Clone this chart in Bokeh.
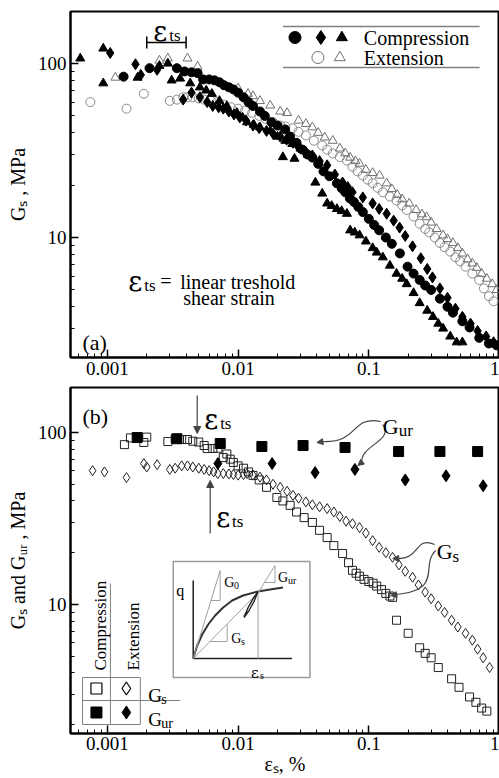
import math
from bokeh.plotting import figure
from bokeh.models import Label, Arrow, NormalHead, FixedTicker, Range1d
from bokeh.layouts import column
from bokeh.embed import file_html
from bokeh.resources import INLINE

# ---------------- data ----------------
# Panel (a) : secant shear modulus Gs (MPa) versus shear strain (%)
a_comp_circle_x = [0.00133, 0.0021, 0.0034, 0.0039, 0.0044, 0.0049, 0.0054, 0.0060, 0.0066, 0.0072, 0.0078, 0.0085,
                   0.0092, 0.0100, 0.0110, 0.0120, 0.0130, 0.0147, 0.0160, 0.0180, 0.0200, 0.0229, 0.0250, 0.0280,
                   0.0310, 0.0340, 0.0370, 0.0410, 0.0450, 0.0500, 0.0570, 0.0620, 0.0660, 0.0716, 0.0770, 0.0830,
                   0.0900, 0.1000, 0.1100, 0.1200, 0.1350, 0.1500, 0.1730, 0.1980, 0.2200, 0.2450, 0.2700, 0.3000,
                   0.3500, 0.4000, 0.4400, 0.5200, 0.5900, 0.7000, 0.8300, 0.9500]
a_comp_circle_y = [84, 94, 94, 90, 89, 88, 81, 81, 80, 78, 75, 73,
                   71, 68, 64, 60, 57, 53, 50, 46, 44, 41.8, 38, 35,
                   32, 30, 28.8, 26.5, 24.0, 22.5, 20.5, 19.2, 18.2, 16.8, 16.0, 15.0,
                   14.0, 12.8, 11.8, 11.0, 10.0, 9.2, 8.1, 6.8, 6.2, 5.7, 5.3, 5.0,
                   4.45, 4.0, 3.7, 3.3, 3.04, 2.65, 2.46, 2.4]
a_comp_diamond_x = [0.00105, 0.00164, 0.0018, 0.0024, 0.0038, 0.0044, 0.0051, 0.0058, 0.0064, 0.0071, 0.0077,
                    0.0085, 0.0093, 0.0103, 0.0115, 0.0130, 0.0145, 0.0165, 0.0185, 0.0210, 0.0235, 0.0263,
                    0.0290, 0.0330, 0.0370, 0.0420, 0.0480, 0.0550, 0.0630, 0.0690, 0.0750, 0.0900, 0.1070,
                    0.1200, 0.1370, 0.1550, 0.1720, 0.1900, 0.2160, 0.2500, 0.2800, 0.3070, 0.3500, 0.4000,
                    0.4600, 0.5200, 0.6000, 0.6800, 0.7900, 0.9000]
a_comp_diamond_y = [115, 99, 86, 92, 62, 68, 64, 60, 57, 56, 55,
                    53, 51, 49, 47, 44, 42.5, 41, 39.5, 38, 36.5, 35,
                    33, 31, 29.6, 27.5, 26, 23, 20.7, 19.5, 18.2, 17, 15.7,
                    14.6, 13.7, 12.5, 11.4, 10.2, 8.9, 7.6, 6.6, 5.9, 5.1, 4.5,
                    3.9, 3.5, 3.2, 2.9, 2.7, 2.5]
a_comp_triangle_x = [0.00062, 0.00093, 0.00093, 0.0017, 0.0025, 0.0029, 0.0031, 0.0036, 0.0043, 0.0051, 0.0057,
                     0.0063, 0.0072, 0.0082, 0.0098, 0.0108, 0.0117, 0.0132, 0.0147, 0.0176, 0.0200, 0.0220,
                     0.0230, 0.0260, 0.0270, 0.0300, 0.0340, 0.0390, 0.0440, 0.0480, 0.0520, 0.0570, 0.0620,
                     0.0680, 0.0720, 0.0780, 0.0850, 0.0950, 0.1070, 0.1150, 0.1280, 0.1450, 0.1630, 0.1800,
                     0.1950, 0.2200, 0.2450, 0.2800, 0.3100, 0.3400, 0.3700, 0.4200, 0.4700, 0.5200]
a_comp_triangle_y = [107, 122, 77, 83, 97, 100, 80, 82, 77, 73, 70,
                     67, 61, 57, 52, 49, 46, 44.5, 43, 41, 38, 29,
                     36, 34.5, 28.4, 32.5, 30, 20.7, 17.9, 15.7, 15.2, 14.6, 14.2,
                     13.7, 11.0, 10.7, 10.3, 9.5, 8.7, 8.2, 7.7, 6.9, 6.2, 5.8,
                     5.4, 4.8, 4.2, 3.8, 3.5, 3.2, 3.0, 2.7, 2.5, 2.5]
a_ext_circle_x = [0.00074, 0.0014, 0.0019, 0.0030, 0.0034, 0.0038, 0.0041, 0.0045, 0.0050, 0.0055, 0.0062, 0.0069,
                  0.0078, 0.0088, 0.0100, 0.0113, 0.0128, 0.0145, 0.0163, 0.0185, 0.0210, 0.0230, 0.0260, 0.0290,
                  0.0330, 0.0380, 0.0440, 0.0480, 0.0530, 0.0600, 0.0680, 0.0750, 0.0820, 0.0900, 0.0980, 0.1070,
                  0.1170, 0.1280, 0.1450, 0.1630, 0.1800, 0.1950, 0.2200, 0.2450, 0.2700, 0.2900, 0.3200, 0.3500,
                  0.3800, 0.4200, 0.4600, 0.5000, 0.5500, 0.6200, 0.7000, 0.7600, 0.8300, 0.9000]
a_ext_circle_y = [60, 55, 67, 61, 62, 64, 64, 64, 63, 62, 61, 60,
                  58, 56, 55, 53.5, 52, 50, 48, 46, 44, 43.5, 42.4, 40.5,
                  38.6, 36, 33.8, 32, 30.4, 29, 27.7, 25.5, 24, 22.7, 21.5, 20.5,
                  19.3, 18.2, 17.2, 16.3, 15.3, 14.4, 13.2, 12, 11.2, 10.7, 10, 9.3,
                  8.8, 8.3, 7.7, 7.3, 6.8, 6.2, 5.7, 5.1, 4.6, 4.3]
a_ext_triangle_x = [0.00115, 0.0025, 0.0029, 0.0041, 0.0049, 0.0100, 0.0119, 0.0130, 0.0147, 0.0176, 0.0210, 0.0237,
                    0.0290, 0.0330, 0.0370, 0.0410, 0.0460, 0.0530, 0.0600, 0.0660, 0.0720, 0.0790, 0.0850, 0.0950,
                    0.1070, 0.1210, 0.1370, 0.1500, 0.1650, 0.1800, 0.2040, 0.2300, 0.2550, 0.2770, 0.3000, 0.3300,
                    0.3700, 0.4000, 0.4400, 0.4800, 0.5200, 0.5700, 0.6200, 0.6700, 0.7300, 0.8000, 0.8800, 0.9500]
a_ext_triangle_y = [83, 104, 107, 107, 96, 72, 67, 65, 61, 57.4, 53, 52,
                    47, 45, 43, 40, 37.6, 36, 32.5, 30.5, 28.8, 27.5, 26.6, 24.5,
                    23.5, 22.7, 20.5, 19, 17.6, 16.6, 15.7, 14.4, 13.6, 13.1, 12.2, 11.2,
                    10.3, 9.8, 9.3, 8.7, 8.1, 7.5, 7.1, 6.7, 6.2, 5.8, 5.4, 5.0]
eps_ts_range = [0.002, 0.004]

# Panel (b) : Gs and Gur (MPa) versus shear strain (%)
b_gur_comp_x = [0.00169, 0.0034, 0.0073, 0.0152, 0.0314, 0.0658, 0.169, 0.35, 0.68]
b_gur_comp_y = [93.5, 92, 86.3, 82.9, 84, 81.8, 77.5, 77.5, 77.5]
b_gur_ext_x = [0.0070, 0.0182, 0.0388, 0.0783, 0.19, 0.39, 0.75]
b_gur_ext_y = [66, 66, 58.5, 61, 53, 56, 49]
b_gs_comp_x = [0.00135, 0.0015, 0.0019, 0.0020, 0.0029, 0.0033, 0.0037, 0.0041, 0.0045, 0.0050, 0.0055, 0.0058,
               0.0064, 0.0070, 0.0077, 0.0082, 0.0087, 0.0092, 0.0100, 0.0110, 0.0120, 0.0130, 0.0145, 0.0165,
               0.0198, 0.0220, 0.0250, 0.0280, 0.0320, 0.0370, 0.0420, 0.0480, 0.0540, 0.0630, 0.0700, 0.0750,
               0.0800, 0.0850, 0.0920, 0.1000, 0.1080, 0.1150, 0.1250, 0.1350, 0.1450, 0.1520, 0.1630, 0.2000,
               0.2450, 0.2700, 0.3000, 0.3400, 0.4300, 0.4900, 0.5900, 0.6600, 0.7300, 0.8000]
b_gs_comp_y = [85, 93, 87.5, 94, 88.6, 92, 91, 91, 89, 88, 84, 80.7,
               80.7, 81, 71.5, 75, 70, 67, 64, 62, 59, 56.3, 53, 48,
               41.9, 40, 37.7, 34.5, 32, 30, 27, 24.5, 22, 19.8, 17.5, 15.8,
               15.2, 14.6, 14.0, 13.6, 13.3, 12.8, 12.2, 11.6, 11.2, 11.0, 8.1, 6.8,
               5.6, 5.2, 4.9, 4.3, 3.7, 3.3, 2.9, 2.7, 2.5, 2.4]
b_gs_ext_x = [0.00077, 0.00095, 0.0014, 0.0019, 0.0020, 0.0024, 0.0030, 0.0033, 0.0037, 0.0041, 0.0045, 0.0050,
              0.0055, 0.0060, 0.0065, 0.0070, 0.0077, 0.0085, 0.0092, 0.0100, 0.0110, 0.0117, 0.0130, 0.0147,
              0.0165, 0.0185, 0.0210, 0.0237, 0.0263, 0.0290, 0.0330, 0.0370, 0.0420, 0.0480, 0.0540, 0.0600,
              0.0670, 0.0750, 0.0850, 0.0950, 0.1070, 0.1200, 0.1350, 0.1520, 0.1700, 0.1900, 0.2160, 0.2400,
              0.2700, 0.3000, 0.3400, 0.3800, 0.4300, 0.4800, 0.5500, 0.6200, 0.6800, 0.7500, 0.8400]
b_gs_ext_y = [60, 59, 54.7, 66, 63, 65, 61, 62, 64, 64, 63, 62,
              61, 60, 59, 57.7, 57.7, 57.4, 57, 56.5, 57, 57.7, 56.5, 55,
              53, 50, 48, 45.5, 43.1, 41.5, 39.5, 38, 37, 36.1, 34.5, 32.5,
              30.5, 29.5, 28, 26, 23.5, 21.5, 20, 18.8, 17, 15.6, 14.4, 13,
              11.8, 10.8, 9.8, 9, 8.1, 7.4, 6.8, 6.2, 5.5, 4.9, 4.3]

x_major_ticks = [0.001, 0.01, 0.1, 1]
x_tick_labels = {0.001: "0.001", 0.01: "0.01", 0.1: "0.1", 1: "1"}
y_major_ticks = [10, 100]
y_tick_labels = {10: "10", 100: "100"}

# ---------------- helpers ----------------
SERIF = "Liberation Serif"
GREEK = "DejaVu Serif"


def rx(px):  # horizontal position in the reference picture -> strain
    return 10 ** (-3 + (px - 107) / 131)


def rya(py):
    return 10 ** (2 - (py - 63) / 174)


def ryb(py):
    return 10 ** (2 - (py - 432) / 172)


def minor_list(lo_exp, hi_exp):
    out = []
    for e in range(lo_exp, hi_exp):
        for m in range(2, 10):
            out.append(m * 10 ** e)
    return out


def make_fig(height, yr, top, bottom):
    p = figure(width=499, height=height, x_axis_type="log", y_axis_type="log",
               x_range=Range1d(rx(70), 1.0), y_range=Range1d(*yr),
               output_backend="svg", toolbar_location=None,
               min_border_left=70, min_border_right=0, min_border_top=top, min_border_bottom=bottom)
    p.grid.visible = False
    p.outline_line_color = "black"
    p.outline_line_width = 2
    p.xaxis.ticker = FixedTicker(ticks=x_major_ticks, minor_ticks=minor_list(-4, 0))
    p.yaxis.ticker = FixedTicker(ticks=y_major_ticks, minor_ticks=minor_list(0, 3))
    p.xaxis.major_label_overrides = x_tick_labels
    p.yaxis.major_label_overrides = y_tick_labels
    for ax in p.xaxis + p.yaxis:
        ax.axis_line_width = 2
        ax.major_tick_in = 8
        ax.major_tick_out = 0
        ax.minor_tick_in = 4
        ax.minor_tick_out = 0
        ax.major_tick_line_width = 1.5
        ax.major_label_text_font = SERIF
        ax.major_label_text_font_size = "19px"
        ax.major_label_text_color = "black"
        ax.major_label_standoff = 4
        ax.axis_label_text_font = SERIF
        ax.axis_label_text_font_style = "normal"
        ax.axis_label_text_font_size = "20px"
        ax.axis_label_text_color = "black"
    return p


def lab(p, x, y, text, size, font=SERIF, angle=0.0, align="left", baseline="alphabetic", color="black"):
    p.add_layout(Label(x=x, y=y, text=text, text_font=font, text_font_size=f"{size}px", angle=angle,
                       text_align=align, text_baseline=baseline, text_color=color))


# ================= panel (a) =================
pa = make_fig(383, (rya(357), rya(11)), 11, 26)
pa.yaxis.axis_label = "Gₛ , MPa"
pa.yaxis.axis_label_standoff = 6

pa.scatter(a_ext_circle_x, a_ext_circle_y, marker="circle", size=9, fill_color=None,
           line_color="#8a8a8a", line_width=1)
pa.scatter(a_ext_triangle_x, a_ext_triangle_y, marker="triangle", size=9, fill_color=None,
           line_color="#707070", line_width=1)
pa.scatter(a_comp_triangle_x, a_comp_triangle_y, marker="triangle", size=9, color="black")
pa.scatter(a_comp_diamond_x, a_comp_diamond_y, marker="diamond", size=11, color="black")
pa.scatter(a_comp_circle_x, a_comp_circle_y, marker="circle", size=9, color="black")

# threshold strain bracket
yb = rya(42)
pa.segment(x0=[eps_ts_range[0], eps_ts_range[0], eps_ts_range[1]], y0=[yb, rya(36), rya(36)],
           x1=[eps_ts_range[1], eps_ts_range[0], eps_ts_range[1]], y1=[yb, rya(48), rya(48)],
           line_color="black", line_width=1.5)
lab(pa, rx(153), rya(31), "ε", 27, GREEK)
lab(pa, rx(169), rya(35), "ts", 17)

# legend (a)
pa.segment(x0=[rx(283), rx(283)], y0=[rya(26), rya(67)], x1=[rx(480), rx(480)], y1=[rya(26), rya(67)],
           line_color="#808080", line_width=1.5)
pa.scatter([rx(295)], [rya(37)], marker="circle", size=12, color="black")
pa.scatter([rx(321)], [rya(37)], marker="diamond", size=14, color="black")
pa.scatter([rx(342)], [rya(37)], marker="triangle", size=11, color="black")
pa.scatter([rx(318)], [rya(57)], marker="circle", size=12, fill_color=None, line_color="#707070", line_width=1)
pa.scatter([rx(340)], [rya(57)], marker="triangle", size=11, fill_color=None, line_color="#707070", line_width=1)
lab(pa, rx(364), rya(37), "Compression", 20, baseline="middle")
lab(pa, rx(364), rya(57), "Extension", 20, baseline="middle")

lab(pa, rx(82), rya(342), "(a)", 22)
lab(pa, rx(128), rya(281), "ε", 27, GREEK)
lab(pa, rx(144), rya(285), "ts", 17)
lab(pa, rx(160), rya(280), "=", 20)
lab(pa, rx(180), rya(281), "linear treshold", 20)
lab(pa, rx(183), rya(297), "shear strain", 20)

# ================= panel (b) =================
pb = make_fig(395, (ryb(733), ryb(387)), 4, 45)
pb.yaxis.axis_label = "Gₛ and Gᵤᵣ , MPa"
pb.yaxis.axis_label_standoff = 6
pb.xaxis.axis_label = "εₛ, %"
pb.xaxis.axis_label_standoff = 0
pb.xaxis.major_label_standoff = 3

pb.scatter(b_gs_ext_x, b_gs_ext_y, marker="diamond", size=10, fill_color=None, line_color="#222222", line_width=1)
pb.scatter(b_gs_comp_x, b_gs_comp_y, marker="square", size=8, fill_color=None, line_color="#222222", line_width=1)
pb.scatter(b_gur_comp_x, b_gur_comp_y, marker="square", size=10, color="black")
pb.scatter(b_gur_ext_x, b_gur_ext_y, marker="diamond", size=12, color="black")

lab(pb, rx(82), ryb(416), "(b)", 22)

# threshold arrows
pb.add_layout(Arrow(x_start=rx(197), y_start=ryb(395), x_end=rx(197), y_end=ryb(433),
                    line_color="#444444", line_width=1.2,
                    end=NormalHead(size=7, fill_color="#444444", line_color="#444444")))
pb.add_layout(Arrow(x_start=rx(210), y_start=ryb(533), x_end=rx(210), y_end=ryb(480),
                    line_color="#444444", line_width=1.2,
                    end=NormalHead(size=7, fill_color="#444444", line_color="#444444")))
lab(pb, rx(204), ryb(419), "ε", 27, GREEK)
lab(pb, rx(220), ryb(423), "ts", 17)
lab(pb, rx(216), ryb(517), "ε", 27, GREEK)
lab(pb, rx(232), ryb(521), "ts", 17)

# Gur callout
lab(pb, rx(383), ryb(426), "G", 22)
lab(pb, rx(399), ryb(430), "ur", 17)
pb.bezier(x0=[rx(381), rx(383)], y0=[ryb(421), ryb(424)], x1=[rx(322), rx(362)], y1=[ryb(441), ryb(462)],
          cx0=[rx(350), rx(395)], cy0=[ryb(415), ryb(440)], cx1=[rx(360), rx(360)], cy1=[ryb(443), ryb(445)],
          line_color="#444444", line_width=1.2)
pb.add_layout(Arrow(x_start=rx(324), y_start=ryb(441), x_end=rx(317), y_end=ryb(442), line_width=1,
                    line_color="#444444", end=NormalHead(size=6, fill_color="#444444", line_color="#444444")))
pb.add_layout(Arrow(x_start=rx(363), y_start=ryb(461), x_end=rx(358), y_end=ryb(465), line_width=1,
                    line_color="#444444", end=NormalHead(size=6, fill_color="#444444", line_color="#444444")))

# Gs callout
lab(pb, rx(437), ryb(551), "G", 22)
lab(pb, rx(453), ryb(556), "s", 17)
pb.bezier(x0=[rx(435), rx(436)], y0=[ryb(544), ryb(550)], x1=[rx(397), rx(395)], y1=[ryb(558), ryb(594)],
          cx0=[rx(415), rx(420)], cy0=[ryb(535), ryb(565)], cx1=[rx(420), rx(445)], cy1=[ryb(560), ryb(590)],
          line_color="#444444", line_width=1.2)
pb.add_layout(Arrow(x_start=rx(400), y_start=ryb(558), x_end=rx(393), y_end=ryb(558), line_width=1,
                    line_color="#444444", end=NormalHead(size=6, fill_color="#444444", line_color="#444444")))
pb.add_layout(Arrow(x_start=rx(398), y_start=ryb(594), x_end=rx(391), y_end=ryb(595), line_width=1,
                    line_color="#444444", end=NormalHead(size=6, fill_color="#444444", line_color="#444444")))

# inset sketch (q versus strain)
pb.quad(left=[rx(173)], right=[rx(310)], top=[ryb(561)], bottom=[ryb(677)], fill_color="white",
        line_color="#9a9a9a", line_width=1.5)
pb.segment(x0=[rx(193), rx(193)], y0=[ryb(580), ryb(658)], x1=[rx(193), rx(292)], y1=[ryb(658), ryb(658)],
           line_color="#222222", line_width=1.5)
lab(pb, rx(180), ryb(590), "q", 16, align="center")
ink_x = [193, 197, 202, 208, 215, 223, 232, 243, 258, 270, 283]
ink_y = [658, 645, 634, 624, 615, 607, 600, 595, 591, 589, 587]
pb.line([rx(v) for v in ink_x], [ryb(v) for v in ink_y], line_color="#333333", line_width=2)
gx0 = [193, 211, 220, 193, 210, 227, 243, 264, 275, 258]
gy0 = [658, 600, 600, 658, 641, 641, 616, 582, 582, 591]
gx1 = [220, 220, 220, 262, 227, 227, 275, 275, 275, 258]
gy1 = [570, 600, 570, 588, 641, 624, 565, 582, 565, 658]
pb.segment(x0=[rx(v) for v in gx0], y0=[ryb(v) for v in gy0], x1=[rx(v) for v in gx1], y1=[ryb(v) for v in gy1],
           line_color="#a0a0a0", line_width=1)
loop_x = [258, 253, 248, 244, 249, 254, 258]
loop_y = [591, 598, 607, 617, 610, 601, 591]
pb.line([rx(v) for v in loop_x], [ryb(v) for v in loop_y], line_color="#222222", line_width=1.3)
lab(pb, rx(224), ryb(582), "G", 14)
lab(pb, rx(234), ryb(585), "0", 10)
lab(pb, rx(231), ryb(638), "G", 14)
lab(pb, rx(241), ryb(641), "s", 10)
lab(pb, rx(278), ryb(577), "G", 14)
lab(pb, rx(288), ryb(580), "ur", 10)
lab(pb, rx(251), ryb(672), "ε", 15, GREEK)
lab(pb, rx(260), ryb(675), "s", 10)

# legend (b)
pb.quad(left=[rx(82)], right=[rx(140)], top=[ryb(677)], bottom=[ryb(724)], fill_color=None,
        line_color="#808080", line_width=1)
pb.segment(x0=[rx(110), rx(82)], y0=[ryb(583), ryb(700)], x1=[rx(110), rx(180)], y1=[ryb(724), ryb(700)],
           line_color="#808080", line_width=1)
pb.scatter([rx(96)], [ryb(688)], marker="square", size=11, fill_color=None, line_color="black", line_width=1.2)
pb.scatter([rx(126)], [ryb(688)], marker="diamond", size=13, fill_color=None, line_color="black", line_width=1.2)
pb.scatter([rx(96)], [ryb(712)], marker="square", size=11, color="black")
pb.scatter([rx(126)], [ryb(712)], marker="diamond", size=13, color="black")
lab(pb, rx(148), ryb(695), "G", 19)
lab(pb, rx(161), ryb(699), "s", 14)
lab(pb, rx(148), ryb(719), "G", 19)
lab(pb, rx(161), ryb(723), "ur", 14)
ang = math.pi / 2
lab(pb, rx(100), ryb(670), "Compression", 17, angle=ang)
lab(pb, rx(133), ryb(670), "Extension", 17, angle=ang)

layout = column(pa, pb)
open("out.html", "w").write(file_html(layout, INLINE))
